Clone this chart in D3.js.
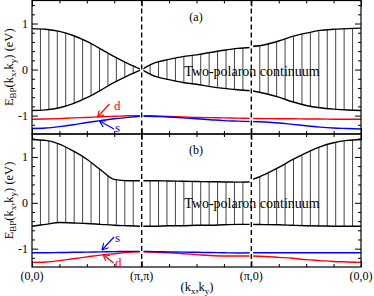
<!DOCTYPE html>
<html>
<head>
<meta charset="utf-8">
<script src="https://cdn.jsdelivr.net/npm/d3@7"></script>
<style>
  body { margin: 0; background: #fff; }
  svg { display: block; }
  text { font-family: "Liberation Serif", "Times New Roman", serif; }
</style>
</head>
<body>
<div id="chart"></div>
<script>
// sample points along each path segment (Γ→M, M→X, X→Γ), fraction of the segment
const kGrid = [0, 0.125, 0.25, 0.375, 0.5, 0.625, 0.75, 0.875, 1];
const symLabels = ["(0,0)", "(π,π)", "(π,0)", "(0,0)"];

// panel (a): continuum edges and bound states, one array per segment
const aUpper = [
  [0.89, 0.875, 0.83, 0.74, 0.61, 0.45, 0.28, 0.13, 0.0],
  [0.0, 0.15, 0.22, 0.28, 0.32, 0.37, 0.42, 0.46, 0.48],
  [0.5, 0.54, 0.62, 0.72, 0.79, 0.85, 0.875, 0.89, 0.9]
];
const aLower = [
  [-0.89, -0.875, -0.83, -0.74, -0.61, -0.45, -0.28, -0.13, 0.0],
  [0.0, -0.15, -0.22, -0.28, -0.32, -0.37, -0.41, -0.44, -0.46],
  [-0.46, -0.52, -0.6, -0.7, -0.78, -0.83, -0.86, -0.88, -0.89]
];
const aD = [
  [-1.08, -1.075, -1.065, -1.05, -1.04, -1.025, -1.015, -1.005, -1.0],
  [-1.0, -1.01, -1.02, -1.03, -1.04, -1.045, -1.05, -1.055, -1.06],
  [-1.06, -1.065, -1.07, -1.07, -1.075, -1.075, -1.08, -1.08, -1.08]
];
const aS = [
  [-1.28, -1.27, -1.24, -1.2, -1.15, -1.11, -1.07, -1.04, -1.01],
  [-1.01, -1.02, -1.03, -1.05, -1.07, -1.09, -1.11, -1.12, -1.13],
  [-1.13, -1.14, -1.16, -1.19, -1.22, -1.25, -1.27, -1.28, -1.29]
];

// panel (b)
const bUpper = [
  [1.38, 1.36, 1.28, 1.13, 0.95, 0.72, 0.51, 0.48, 0.48],
  [0.48, 0.48, 0.475, 0.47, 0.465, 0.46, 0.455, 0.45, 0.46],
  [0.5, 0.62, 0.77, 0.94, 1.09, 1.22, 1.31, 1.36, 1.38]
];
const bLower = [
  [-0.51, -0.47, -0.43, -0.44, -0.45, -0.47, -0.49, -0.5, -0.51],
  [-0.51, -0.51, -0.5, -0.5, -0.49, -0.49, -0.48, -0.47, -0.47],
  [-0.47, -0.475, -0.48, -0.49, -0.5, -0.505, -0.51, -0.51, -0.51]
];
const bS = [
  [-1.09, -1.09, -1.085, -1.08, -1.075, -1.07, -1.065, -1.06, -1.06],
  [-1.06, -1.065, -1.07, -1.075, -1.08, -1.085, -1.09, -1.095, -1.09],
  [-1.09, -1.09, -1.09, -1.09, -1.09, -1.09, -1.09, -1.09, -1.09]
];
const bD = [
  [-1.30, -1.29, -1.26, -1.22, -1.18, -1.14, -1.11, -1.08, -1.07],
  [-1.07, -1.08, -1.09, -1.11, -1.13, -1.15, -1.16, -1.16, -1.16],
  [-1.16, -1.17, -1.19, -1.21, -1.24, -1.26, -1.28, -1.29, -1.30]
];

const yMajor = [-1, 0, 1];
const yMinor = [-1.2, -0.8, -0.6, -0.4, -0.2, 0.2, 0.4, 0.6, 0.8, 1.2, 1.4];
const xMajor = [0, 1, 2, 3];
const xMinor = [0.25, 0.5, 0.75, 1.25, 1.5, 1.75, 2.25, 2.5, 2.75];
const hatchPerSeg = 13;

const W = 374, H = 296;
const left = 32, right = 361;

const svg = d3.select('#chart').append('svg')
  .attr('width', W).attr('height', H);

const defs = svg.append('defs');
[['red', '#ff0000'], ['blue', '#0000ff']].forEach(([n, c]) => {
  defs.append('marker')
    .attr('id', 'arr-' + n)
    .attr('viewBox', '0 0 10 10')
    .attr('refX', 9).attr('refY', 5)
    .attr('markerWidth', 7).attr('markerHeight', 7)
    .attr('markerUnits', 'userSpaceOnUse')
    .attr('orient', 'auto')
    .append('path')
    .attr('d', 'M0,0 L9,5 L0,10')
    .attr('fill', 'none')
    .attr('stroke', c)
    .attr('stroke-width', 1.6);
});

const x = d3.scaleLinear().domain([0, 3]).range([left, right]);

function segPoints(seg, vals) {
  return vals.map((v, i) => [seg + kGrid[i], v]);
}

function drawPanel(id, top, bottom, upper, lower, sVals, dVals, label, textY, arrows) {
  const y = d3.scaleLinear().domain([-1.4, 1.5]).range([bottom, top]);
  const g = svg.append('g');

  const line = d3.line().x(d => x(d[0])).y(d => y(d[1])).curve(d3.curveMonotoneX);
  const area = d3.area().x(d => x(d[0])).y0(d => y(d[1])).y1(d => y(d[2])).curve(d3.curveMonotoneX);

  // clip for hatching, one area per segment
  const clip = defs.append('clipPath').attr('id', 'clip-' + id);
  for (let s = 0; s < 3; s++) {
    clip.append('path').attr('d', area(upper[s].map((v, i) => [s + kGrid[i], lower[s][i], v])));
  }

  const hatchX = [];
  for (let s = 0; s < 3; s++) for (let i = 1; i < hatchPerSeg; i++) hatchX.push(s + i / hatchPerSeg);
  g.append('g').attr('clip-path', `url(#clip-${id})`)
    .selectAll('line').data(hatchX).enter().append('line')
    .attr('x1', d => x(d)).attr('x2', d => x(d))
    .attr('y1', top).attr('y2', bottom)
    .attr('stroke', '#444').attr('stroke-width', 1);

  for (let s = 0; s < 3; s++) {
    [upper, lower].forEach(arr => {
      g.append('path').attr('d', line(segPoints(s, arr[s])))
        .attr('fill', 'none').attr('stroke', '#000').attr('stroke-width', 1.4);
    });
    g.append('path').attr('d', line(segPoints(s, dVals[s])))
      .attr('fill', 'none').attr('stroke', '#ff0000').attr('stroke-width', 1.4);
    g.append('path').attr('d', line(segPoints(s, sVals[s])))
      .attr('fill', 'none').attr('stroke', '#0000ff').attr('stroke-width', 1.4);
  }

  // dashed verticals at (π,π) and (π,0)
  [1, 2].forEach(k => {
    g.append('line').attr('x1', x(k)).attr('x2', x(k)).attr('y1', top).attr('y2', bottom)
      .attr('stroke', '#fff').attr('stroke-width', 3.5);
    g.append('line').attr('x1', x(k)).attr('x2', x(k)).attr('y1', top).attr('y2', bottom)
      .attr('stroke', '#000').attr('stroke-width', 1.4).attr('stroke-dasharray', '5,3');
  });

  // axes: ticks on all four sides, pointing inward
  const addY = (axisFn, xpos, vals, size, labels) => {
    const a = axisFn(y).tickValues(vals).tickSize(size).tickPadding(4)
      .tickFormat(labels ? (d => String(d)) : '');
    const ax = g.append('g').attr('transform', `translate(${xpos},0)`).call(a);
    ax.select('.domain').remove();
    ax.selectAll('line').attr('stroke', '#000');
    ax.selectAll('text').attr('font-size', 12).attr('fill', '#000')
      .attr('font-family', '"Liberation Serif", "Times New Roman", serif');
  };
  addY(d3.axisLeft, left, yMajor, -6, true);
  addY(d3.axisLeft, left, yMinor, -3, false);
  addY(d3.axisRight, right, yMajor, -6, false);
  addY(d3.axisRight, right, yMinor, -3, false);

  const addX = (axisFn, ypos, vals, size) => {
    const a = axisFn(x).tickValues(vals).tickSize(size).tickFormat('');
    const ax = g.append('g').attr('transform', `translate(0,${ypos})`).call(a);
    ax.select('.domain').remove();
    ax.selectAll('line').attr('stroke', '#000');
  };
  addX(d3.axisBottom, bottom, xMajor, -6);
  addX(d3.axisBottom, bottom, xMinor, -3);
  addX(d3.axisTop, top, xMajor, -6);
  addX(d3.axisTop, top, xMinor, -3);

  g.append('rect').attr('x', left).attr('y', top)
    .attr('width', right - left).attr('height', bottom - top)
    .attr('fill', 'none').attr('stroke', '#000').attr('stroke-width', 1.2);

  g.append('text').attr('x', 196).attr('y', top + 20)
    .attr('text-anchor', 'middle').attr('font-size', 12).text(label);

  g.append('text').attr('x', 252).attr('y', textY)
    .attr('text-anchor', 'middle').attr('font-size', 14).text('Two-polaron continuum');

  // y-axis title
  const t = g.append('text')
    .attr('transform', `translate(13,${(top + bottom) / 2}) rotate(-90)`)
    .attr('text-anchor', 'middle').attr('font-size', 12.5);
  t.append('tspan').text('E');
  t.append('tspan').attr('font-size', 9).attr('dy', 3).text('BP');
  t.append('tspan').attr('dy', -3).text('(k');
  t.append('tspan').attr('font-size', 9).attr('dy', 3).text('x');
  t.append('tspan').attr('dy', -3).text(',k');
  t.append('tspan').attr('font-size', 9).attr('dy', 3).text('y');
  t.append('tspan').attr('dy', -3).text(') (eV)');

  arrows.forEach(a => {
    g.append('line').attr('x1', a.from[0]).attr('y1', a.from[1])
      .attr('x2', a.to[0]).attr('y2', a.to[1])
      .attr('stroke', a.color).attr('stroke-width', 1.2)
      .attr('marker-end', `url(#arr-${a.name})`);
    g.append('text').attr('x', a.text[0]).attr('y', a.text[1])
      .attr('fill', a.color).attr('font-size', 13).text(a.label);
  });

  return y;
}

drawPanel('a', 0.5, 134, aUpper, aLower, aS, aD, '(a)', 76, [
  { name: 'red', color: '#ff0000', from: [109.5, 104], to: [97.5, 117], text: [114, 110], label: 'd' },
  { name: 'blue', color: '#0000ff', from: [114, 129], to: [99.5, 121], text: [115, 132], label: 's' }
]);
drawPanel('b', 134, 267, bUpper, bLower, bS, bD, '(b)', 208, [
  { name: 'blue', color: '#0000ff', from: [114, 237], to: [102, 250], text: [115, 242], label: 's' },
  { name: 'red', color: '#ff0000', from: [113.5, 263], to: [103, 254.5], text: [115, 267], label: 'd' }
]);

// x tick labels under panel (b)
svg.append('g').selectAll('text').data(xMajor).enter().append('text')
  .attr('x', d => x(d)).attr('y', 280)
  .attr('text-anchor', 'middle').attr('font-size', 12)
  .text((d, i) => symLabels[i]);

const xt = svg.append('text').attr('x', 197).attr('y', 291)
  .attr('text-anchor', 'middle').attr('font-size', 12.5);
xt.append('tspan').text('(k');
xt.append('tspan').attr('font-size', 9).attr('dy', 3).text('x');
xt.append('tspan').attr('dy', -3).text(',k');
xt.append('tspan').attr('font-size', 9).attr('dy', 3).text('y');
xt.append('tspan').attr('dy', -3).text(')');
</script>
</body>
</html>
